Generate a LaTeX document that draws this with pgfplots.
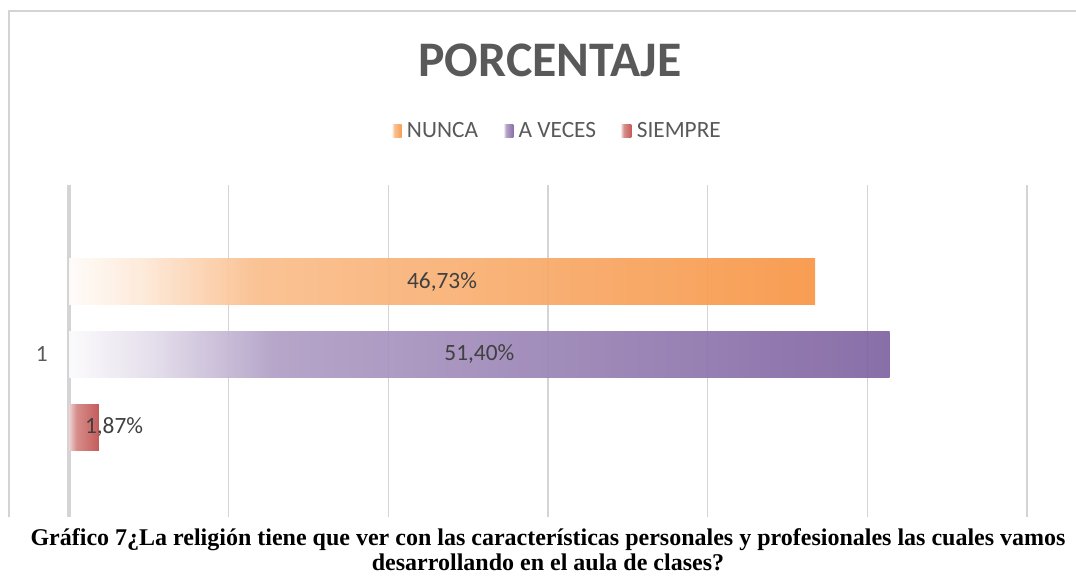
\documentclass[border=0pt]{standalone}
\usepackage{pgfplots}
\pgfplotsset{compat=1.18}
\usepackage{fontspec}
\setmainfont{Carlito}
\newfontfamily\capfont{Liberation Serif}
\definecolor{cN}{HTML}{F79646}
\definecolor{cA}{HTML}{8064A2}
\definecolor{cS}{HTML}{C0504D}
\definecolor{txt}{HTML}{595959}
\definecolor{lbl}{HTML}{404040}
\definecolor{gridc}{HTML}{D4D4D4}
\colorlet{cN0}{cN!3!white}\colorlet{cN1}{cN!22!white}\colorlet{cN2}{cN!62!white}
\colorlet{cA0}{cA!3!white}\colorlet{cA1}{cA!22!white}\colorlet{cA2}{cA!62!white}
\colorlet{cS0}{cS!25!white}\colorlet{cS1}{cS!45!white}\colorlet{cS2}{cS!70!white}
\pgfdeclarehorizontalshading{shN}{100bp}{color(0bp)=(cN0); color(25bp)=(cN0); color(30bp)=(cN1); color(37.5bp)=(cN2); color(75bp)=(cN); color(100bp)=(cN)}
\pgfdeclarehorizontalshading{shA}{100bp}{color(0bp)=(cA0); color(25bp)=(cA0); color(30bp)=(cA1); color(37.5bp)=(cA2); color(75bp)=(cA); color(100bp)=(cA)}
\pgfdeclarehorizontalshading{shS}{100bp}{color(0bp)=(cS0); color(25bp)=(cS0); color(30bp)=(cS1); color(37.5bp)=(cS2); color(75bp)=(cS); color(100bp)=(cS)}
\begin{document}
\begin{tikzpicture}
\path[use as bounding box] (0,0) rectangle (807pt,435pt);
% outer frame
\draw[gridc, line width=1.1pt] (6.75pt,-5pt) -- (6.75pt,426.75pt) -- (830pt,426.75pt);
% title
\node[anchor=base, text=txt, font=\fontsize{37.3}{41}\selectfont\bfseries] at (412.5pt,377.25pt) {PORCENTAJE};
\begin{axis}[
  at={(51.75pt,42pt)}, anchor=south west,
  scale only axis, width=718.5pt, height=254.25pt,
  xbar, bar width=34.5pt,
  xmin=0, xmax=60, ymin=0.5, ymax=1.5,
  xtick={0,10,...,60}, xticklabels={},
  ytick={1}, yticklabels={1},
  major tick length=0pt,
  xmajorgrids, grid style={gridc, line width=1.2pt},
  axis lines*=left,
  x axis line style={draw=none},
  y axis line style={draw=gridc, line width=2.4pt},
  yticklabel style={font=\fontsize{17.5}{20}\selectfont, text=txt, xshift=-12.5pt},
  legend style={at={(axis description cs:0.51,1.158)}, anchor=center, draw=none, fill=none,
    legend columns=3, font=\fontsize{17.5}{20}\selectfont, text=txt,
    /tikz/every odd column/.append style={column sep=2pt},
    /tikz/every even column/.append style={column sep=17pt},
    legend cell align=left},
  legend image code/.code={\path[#1, draw=none] (0pt,-4.9pt) rectangle (7.5pt,4.9pt);},
]
\addplot[shading=shN, draw=none, fill opacity=0.93, bar shift=54.4pt] coordinates {(46.73,1)};
\addplot[shading=shA, draw=none, fill opacity=0.93, bar shift=0pt] coordinates {(51.40,1)};
\addplot[shading=shS, draw=none, fill opacity=0.93, bar shift=-54.75pt] coordinates {(1.87,1)};
\legend{NUNCA, A VECES, SIEMPRE}
\node[text=lbl, font=\fontsize{17.5}{20}\selectfont] at (axis cs:23.365,1) [yshift=54.4pt] {46,73\%};
\node[text=lbl, font=\fontsize{17.5}{20}\selectfont] at (axis cs:25.70,1) {51,40\%};
\node[text=lbl, font=\fontsize{17.5}{20}\selectfont] at (axis cs:2.82,1) [yshift=-54.75pt] {1,87\%};
\end{axis}
% caption
\fill[white] (-5pt,-5pt) rectangle (830pt,47.25pt);
\node[anchor=base, font=\capfont\bfseries\fontsize{18}{20}\selectfont] at (411pt,25.5pt) {Gráfico 7¿La religión tiene que ver con las características personales y profesionales las cuales vamos};
\node[anchor=base, font=\capfont\bfseries\fontsize{18}{20}\selectfont] at (411pt,6.75pt) {desarrollando en el aula de clases?};
\end{tikzpicture}
\end{document}
